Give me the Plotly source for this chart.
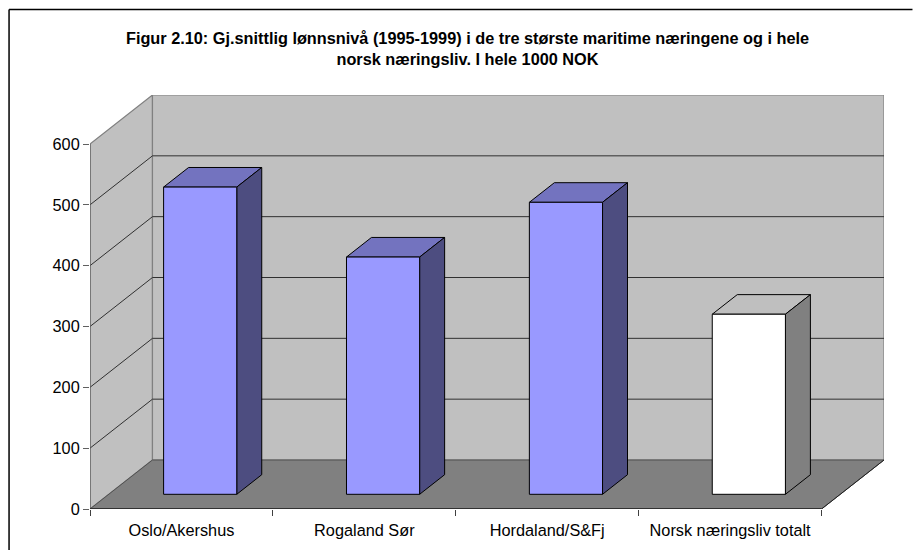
import plotly.graph_objects as go

# Data
categories = ["Oslo/Akershus", "Rogaland Sør", "Hordaland/S&Fj", "Norsk næringsliv totalt"]
values = [505, 390, 480, 296]
front_colors = ["#9999FF", "#9999FF", "#9999FF", "#FFFFFF"]
top_colors = ["#7373BF", "#7373BF", "#7373BF", "#BFBFBF"]
side_colors = ["#4D4D80", "#4D4D80", "#4D4D80", "#808080"]
y_ticks = [0, 100, 200, 300, 400, 500, 600]
title_line1 = "Figur 2.10: Gj.snittlig lønnsnivå (1995-1999) i de tre største maritime næringene og i hele"
title_line2 = "norsk næringsliv. I hele 1000 NOK"

W, H = 913, 550
LEFT, BOTTOM = 90, 509          # px of front-plane origin
CAT_PX, VAL_PX = 183, 0.6083    # px per category, px per value unit
DX_PX, DY_PX = 62.5, 49         # oblique depth offset in px
DX, DY = DX_PX / CAT_PX, DY_PX / VAL_PX
YMAX = y_ticks[-1]
N = len(categories)
X0, X1 = -0.5, N - 0.5
BAR_W, D0, D1 = 0.4, 0.3, 0.7
TOP_PX = BOTTOM - YMAX * VAL_PX - DY_PX
RIGHT_PX = LEFT + N * CAT_PX + DX_PX


def p(x, y, d=0.0):
    return x + d * DX, y + d * DY


fig = go.Figure()


def poly(points, fill=None, line="#000000", width=1):
    xs, ys = zip(*(points + points[:1]))
    fig.add_trace(go.Scatter(
        x=xs, y=ys, mode="lines", fill="toself" if fill else None, fillcolor=fill,
        line=dict(color=line, width=width), hoverinfo="skip", showlegend=False))


# Walls and floor
poly([p(X0, 0), p(X0, YMAX), p(X0, YMAX, 1), p(X0, 0, 1)], "#C0C0C0", "#808080", 1.2)
poly([p(X0, 0, 1), p(X0, YMAX, 1), p(X1, YMAX, 1), p(X1, 0, 1)], "#C0C0C0", "#808080", 1.2)
poly([p(X0, 0), p(X1, 0), p(X1, 0, 1), p(X0, 0, 1)], "#808080", "#505050", 1)

# Gridlines
for v in y_ticks[1:-1]:
    a, b, c = p(X0, v), p(X0, v, 1), p(X1, v, 1)
    fig.add_trace(go.Scatter(x=[a[0], b[0], c[0]], y=[a[1], b[1], c[1]], mode="lines",
                             line=dict(color="#303030", width=1), hoverinfo="skip", showlegend=False))

# Axis lines on the front plane
fig.add_trace(go.Scatter(x=[X0, X0], y=[0, YMAX], mode="lines", line=dict(color="#606060", width=1.2),
                         hoverinfo="skip", showlegend=False))
fig.add_trace(go.Scatter(x=[X0, X1], y=[0, 0], mode="lines", line=dict(color="#202020", width=1.4),
                         hoverinfo="skip", showlegend=False))
a, b = p(X1, 0), p(X1, 0, 1)
fig.add_trace(go.Scatter(x=[a[0], b[0]], y=[a[1], b[1]], mode="lines", line=dict(color="#202020", width=1),
                         hoverinfo="skip", showlegend=False))

# Bars
for i, v in enumerate(values):
    l, r = i - BAR_W / 2, i + BAR_W / 2
    poly([p(l, v, D0), p(r, v, D0), p(r, v, D1), p(l, v, D1)], top_colors[i], "#000000", 1)
    poly([p(r, 0, D0), p(r, v, D0), p(r, v, D1), p(r, 0, D1)], side_colors[i], "#000000", 1)
    poly([p(l, 0, D0), p(r, 0, D0), p(r, v, D0), p(l, v, D0)], front_colors[i], "#000000", 1)

# Chart-area frame (left and top edges only are in view)
frame = dict(type="line", xref="paper", yref="paper", line=dict(color="#000000", width=1.5), layer="above")


def px(x):
    return (x - LEFT) / (RIGHT_PX - LEFT)


def py(y):
    return (BOTTOM - y) / (BOTTOM - TOP_PX)


shapes = [
    dict(frame, x0=px(9), x1=px(9), y0=py(9.5), y1=py(H)),
    dict(frame, x0=px(9), x1=px(W), y0=py(9.5), y1=py(9.5)),
]

fig.update_layout(
    width=W, height=H,
    margin=dict(l=LEFT, r=W - RIGHT_PX, t=TOP_PX, b=H - BOTTOM, pad=0),
    paper_bgcolor="#FFFFFF", plot_bgcolor="#FFFFFF",
    font=dict(family="Liberation Sans, Arial, sans-serif", size=16.3, color="#000000"),
    shapes=shapes,
    showlegend=False,
    title=dict(
        text=f"<b>{title_line1}<br>{title_line2}</b>", x=467.5 / W, xanchor="center",
        y=1 - 44 / H, yanchor="middle", font=dict(size=16.3),
    ),
    xaxis=dict(
        range=[X0, X0 + (RIGHT_PX - LEFT) / CAT_PX], tickmode="array",
        tickvals=list(range(N)), ticktext=categories, ticks="", showgrid=False,
        zeroline=False, showline=False, ticklabelstandoff=10,
        minor=dict(tickmode="array", tickvals=[i - 0.5 for i in range(N + 1)], ticks="outside",
                   ticklen=6, tickwidth=1, tickcolor="#404040", showgrid=False),
    ),
    yaxis=dict(
        range=[0, (BOTTOM - TOP_PX) / VAL_PX], tickmode="array", tickvals=y_ticks,
        ticks="outside", ticklen=6, tickwidth=1, tickcolor="#606060", showgrid=False,
        zeroline=False, showline=False,
    ),
)

fig.write_html("out.html", config={"displayModeBar": False}, post_script="document.body.style.margin='0';")
